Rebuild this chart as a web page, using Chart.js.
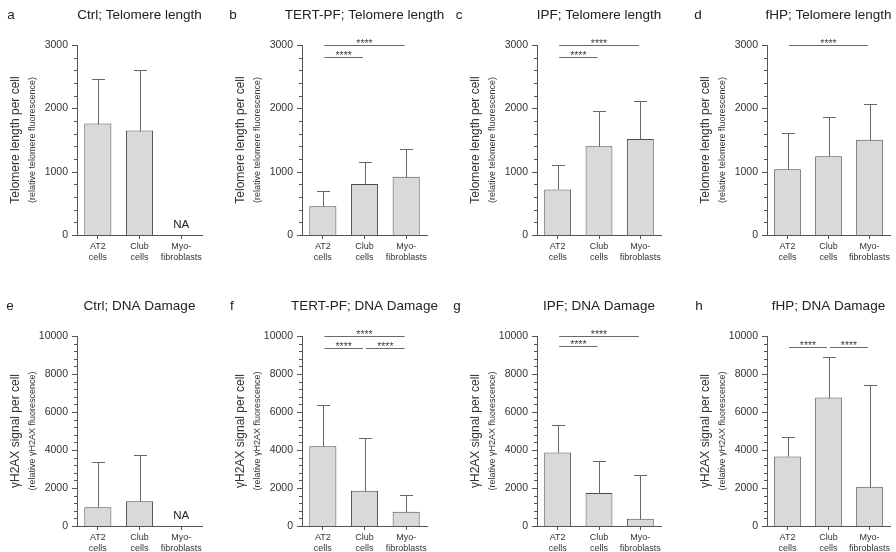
<!DOCTYPE html>
<html><head><meta charset="utf-8">
<script src="https://cdn.jsdelivr.net/npm/chart.js@4.4.1/dist/chart.umd.min.js"></script>
<style>
html,body{margin:0;padding:0;background:#fff;}
#wrap{position:relative;width:896px;height:552px;overflow:hidden;background:#fff;}
canvas{position:absolute;}
</style></head><body><div id="wrap"></div>
<script>
// ---------- data ----------
const categories = [["AT2","cells"],["Club","cells"],["Myo-","fibroblasts"]];
const panelLetters = ["a","b","c","d","e","f","g","h"];
const panelTitles = ["Ctrl; Telomere length","TERT-PF; Telomere length","IPF; Telomere length","fHP; Telomere length",
                     "Ctrl; DNA Damage","TERT-PF; DNA Damage","IPF; DNA Damage","fHP; DNA Damage"];
const telomereAxisTitle = "Telomere length per cell";
const telomereAxisSubtitle = "(relative telomere fluorescence)";
const damageAxisTitle = "\u03B3H2AX signal per cell";
const damageAxisSubtitle = "(relative \u03B3H2AX fluorescence)";
const telomereTicks = [0,1000,2000,3000];
const damageTicks = [0,2000,4000,6000,8000,10000];
const missingLabel = "NA";
const significanceLabel = "****";

const ctrlTelomereMean = [1760,1650,null];
const ctrlTelomereSD   = [710,950,null];
const tertTelomereMean = [455,807,920];
const tertTelomereSD   = [242,347,440];
const ipfTelomereMean  = [720,1400,1515];
const ipfTelomereSD    = [385,555,595];
const fhpTelomereMean  = [1040,1245,1505];
const fhpTelomereSD    = [564,625,565];

const ctrlDamageMean = [990,1300,null];
const ctrlDamageSD   = [2370,2430,null];
const tertDamageMean = [4200,1860,750];
const tertDamageSD   = [2170,2750,900];
const ipfDamageMean  = [3870,1740,385];
const ipfDamageSD    = [1470,1660,2315];
const fhpDamageMean  = [3660,6760,2070];
const fhpDamageSD    = [1050,2120,5350];

// significance brackets: [from category, to category, height]
const ctrlTelomereSig = [];
const tertTelomereSig = [[0,2,3000],[0,1,2810]];
const ipfTelomereSig  = [[0,2,3000],[0,1,2810]];
const fhpTelomereSig  = [[0,2,3000]];
const ctrlDamageSig = [];
const tertDamageSig = [[0,2,10000],[0,1,9370],[1,2,9370]];
const ipfDamageSig  = [[0,2,10000],[0,1,9450]];
const fhpDamageSig  = [[0,1,9400],[1,2,9400]];

// ---------- styling / layout ----------
const FONT = '"Liberation Sans", Arial, Helvetica, sans-serif';
const TEXT = '#333333';
const TITLE = '#222222';
const AXIS = '#555555';
const BAR_FILL = '#d9d9d9';
const BAR_EDGE = '#4d4d4d';
const WHISKER = '#666666';
const BRACKET = '#6a6a6a';
Chart.defaults.font.family = FONT;

const H = 290;
const X_HEIGHT = 30;
const rowTop = {top: 0, plotTop: 45, plotBottom: 235, titleY: 15};
const rowBottom = {top: 276, plotTop: 60, plotBottom: 250, titleY: 30};
const colGeom = [
  {left: 0,   w: 225, axis: 77, plotRight: 202},
  {left: 225, w: 225, axis: 77, plotRight: 202},
  {left: 450, w: 220, axis: 87, plotRight: 211},
  {left: 670, w: 226, axis: 97, plotRight: 220}
];
const letterX = [11, 8, 9, 28, 10, 7, 7, 29];

const panelDecor = {
  id: 'panelDecor',
  afterDatasetsDraw(chart) {
    const p = chart.options.plugins.panelDecor;
    const ctx = chart.ctx;
    const ys = chart.scales.y, xs = chart.scales.x;
    const area = chart.chartArea;
    ctx.save();
    // y ticks (major + minor)
    ctx.strokeStyle = AXIS; ctx.lineWidth = 1;
    const majors = p.ticks;
    const majorStep = majors[1] - majors[0];
    const minorStep = majorStep / 5;
    const maxV = majors[majors.length - 1];
    for (let k = 0; k * minorStep <= maxV + 1e-6; k++) {
      const v = k * minorStep;
      const y = Math.round(ys.getPixelForValue(v)) + 0.5;
      const len = (k % 5 === 0) ? 5 : 3;
      ctx.beginPath(); ctx.moveTo(area.left - len, y); ctx.lineTo(area.left, y); ctx.stroke();
    }
    // error bars
    ctx.strokeStyle = WHISKER; ctx.lineWidth = 1;
    p.mean.forEach((m, i) => {
      if (m === null) return;
      const x = Math.round(xs.getPixelForValue(i)) + 0.5;
      const yTop = Math.round(ys.getPixelForValue(m)) + 0.5;
      const yCap = Math.round(ys.getPixelForValue(m + p.sd[i])) + 0.5;
      ctx.beginPath();
      ctx.moveTo(x, yTop); ctx.lineTo(x, yCap);
      ctx.moveTo(x - 6.5, yCap); ctx.lineTo(x + 6.5, yCap);
      ctx.stroke();
    });
    // NA labels
    ctx.fillStyle = TITLE;
    ctx.font = '11.5px ' + FONT;
    ctx.textAlign = 'center'; ctx.textBaseline = 'alphabetic';
    p.mean.forEach((m, i) => {
      if (m !== null) return;
      ctx.fillText(missingLabel, xs.getPixelForValue(i), area.bottom - 7);
    });
    // significance brackets
    p.sig.forEach(([a, b, v]) => {
      const x1 = xs.getPixelForValue(a) + 1.5;
      const x2 = xs.getPixelForValue(b) - 1.5;
      const y = Math.round(ys.getPixelForValue(v)) + 0.5;
      ctx.strokeStyle = BRACKET; ctx.lineWidth = 1;
      ctx.beginPath(); ctx.moveTo(x1, y); ctx.lineTo(x2, y); ctx.stroke();
      ctx.fillStyle = '#444';
      ctx.font = '10.5px ' + FONT;
      ctx.textAlign = 'center'; ctx.textBaseline = 'alphabetic';
      ctx.fillText(significanceLabel, (x1 + x2) / 2, y + 1.5);
    });
    // panel letter and title
    ctx.fillStyle = TITLE;
    ctx.font = '13.5px ' + FONT;
    ctx.textBaseline = 'middle';
    ctx.textAlign = 'center';
    ctx.fillText(p.letter, p.letterX, p.titleY);
    ctx.fillText(p.title, (area.left + area.right) / 2, p.titleY);
    // y-axis titles
    const cy = (area.top + area.bottom) / 2;
    ctx.save();
    ctx.translate(area.left - 61.5, cy);
    ctx.rotate(-Math.PI / 2);
    ctx.fillStyle = TEXT;
    ctx.font = '12px ' + FONT;
    ctx.fillText(p.yTitle, 0, 0);
    ctx.restore();
    ctx.save();
    ctx.translate(area.left - 44, cy);
    ctx.rotate(-Math.PI / 2);
    ctx.fillStyle = TEXT;
    ctx.font = '9px ' + FONT;
    ctx.fillText(p.ySub, 0, 0);
    ctx.restore();
    ctx.restore();
  }
};

const wrap = document.getElementById('wrap');

function makePanel(idx, mean, sd, ticks, sig, yTitle, ySub) {
  const col = colGeom[idx % 4];
  const row = idx < 4 ? rowTop : rowBottom;
  const canvas = document.createElement('canvas');
  canvas.width = col.w; canvas.height = H;
  canvas.style.left = col.left + 'px'; canvas.style.top = row.top + 'px';
  canvas.style.width = col.w + 'px'; canvas.style.height = H + 'px';
  wrap.appendChild(canvas);
  new Chart(canvas, {
    type: 'bar',
    data: {
      labels: categories,
      datasets: [{
        data: mean,
        backgroundColor: BAR_FILL,
        borderColor: BAR_EDGE,
        borderWidth: 1,
        barPercentage: 0.65,
        categoryPercentage: 1
      }]
    },
    options: {
      responsive: false,
      animation: false,
      devicePixelRatio: 1,
      events: [],
      layout: { padding: { left: 0, right: col.w - col.plotRight, top: row.plotTop, bottom: H - row.plotBottom - X_HEIGHT } },
      plugins: {
        legend: { display: false },
        tooltip: { enabled: false },
        title: { display: false },
        panelDecor: {
          mean, sd, ticks, sig, yTitle, ySub,
          letter: panelLetters[idx], title: panelTitles[idx],
          letterX: letterX[idx], titleY: row.titleY
        }
      },
      scales: {
        x: {
          offset: true,
          grid: { display: true, drawOnChartArea: false, drawTicks: true, tickLength: 4, offset: false, color: AXIS, lineWidth: 1 },
          border: { display: true, color: AXIS, width: 1 },
          ticks: { color: TEXT, font: { family: FONT, size: 9 }, padding: 2, maxRotation: 0, minRotation: 0, autoSkip: false },
          afterFit: s => { s.height = X_HEIGHT; }
        },
        y: {
          min: 0, max: ticks[ticks.length - 1],
          grid: { display: false, drawTicks: false },
          border: { display: true, color: AXIS, width: 1 },
          ticks: { stepSize: ticks[1] - ticks[0], color: TEXT, font: { family: FONT, size: 10.5 }, padding: 9,
                   callback: v => String(v) },
          afterFit: s => { s.width = col.axis; }
        }
      }
    },
    plugins: [panelDecor]
  });
}

makePanel(0, ctrlTelomereMean, ctrlTelomereSD, telomereTicks, ctrlTelomereSig, telomereAxisTitle, telomereAxisSubtitle);
makePanel(1, tertTelomereMean, tertTelomereSD, telomereTicks, tertTelomereSig, telomereAxisTitle, telomereAxisSubtitle);
makePanel(2, ipfTelomereMean, ipfTelomereSD, telomereTicks, ipfTelomereSig, telomereAxisTitle, telomereAxisSubtitle);
makePanel(3, fhpTelomereMean, fhpTelomereSD, telomereTicks, fhpTelomereSig, telomereAxisTitle, telomereAxisSubtitle);
makePanel(4, ctrlDamageMean, ctrlDamageSD, damageTicks, ctrlDamageSig, damageAxisTitle, damageAxisSubtitle);
makePanel(5, tertDamageMean, tertDamageSD, damageTicks, tertDamageSig, damageAxisTitle, damageAxisSubtitle);
makePanel(6, ipfDamageMean, ipfDamageSD, damageTicks, ipfDamageSig, damageAxisTitle, damageAxisSubtitle);
makePanel(7, fhpDamageMean, fhpDamageSD, damageTicks, fhpDamageSig, damageAxisTitle, damageAxisSubtitle);
</script>
</body></html>
